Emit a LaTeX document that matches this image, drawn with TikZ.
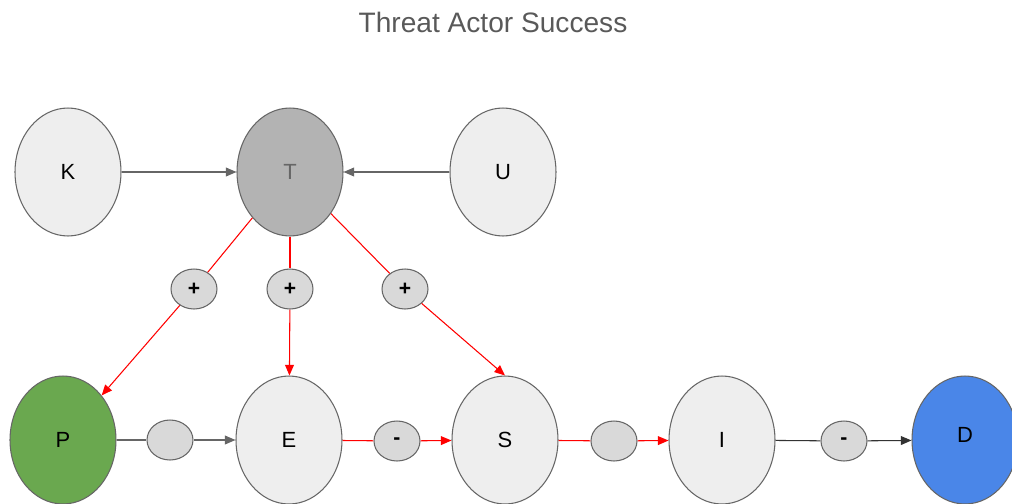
\documentclass[tikz,border=0pt]{standalone}
\usepackage{fontspec}
\setmainfont{Liberation Sans}
\usetikzlibrary{shapes.geometric,arrows.meta}
\definecolor{lgray}{HTML}{EEEEEE}
\definecolor{mgray}{HTML}{D9D9D9}
\definecolor{dgray}{HTML}{B3B3B3}
\definecolor{edge}{HTML}{666666}
\definecolor{pgreen}{HTML}{6AA84F}
\definecolor{dblue}{HTML}{4A86E8}
\definecolor{titlec}{HTML}{595959}
\begin{document}
\begin{tikzpicture}[x=0.02cm,y=-0.02cm,
  big/.style={ellipse,draw=edge,line width=0.6pt,fill=lgray,minimum width=2.12cm,minimum height=2.56cm,inner sep=0pt,font=\fontsize{12.5}{14}\selectfont},
  small/.style={ellipse,draw=edge,line width=0.6pt,fill=mgray,minimum width=0.92cm,minimum height=0.8cm,inner sep=0pt,font=\fontsize{12}{14}\selectfont\bfseries},
  gl/.style={draw=edge,line width=0.6pt},
  ga/.style={gl,-{Triangle[length=6pt,width=5pt]}},
  rl/.style={draw=red,line width=0.6pt},
  ra/.style={rl,-{Triangle[length=6pt,width=5pt]}},
  bl/.style={draw=black!80,line width=0.6pt},
  ba/.style={bl,-{Triangle[length=6pt,width=5pt]}}]
\useasboundingbox (0,0) rectangle (1012,504);
\node[text=titlec,font=\fontsize{16}{19}\selectfont] (title) at (493,22) {Threat Actor Success};
\node[big] (K) at (68,172) {K};
\node[big,fill=dgray,text=edge] (T) at (290,172) {T};
\node[big] (U) at (503,172) {U};
\node[small] (p1) at (194,289) {+};
\node[small] (p2) at (290,289) {+};
\node[small] (p3) at (405,289) {+};
\node[big,fill=pgreen] (P) at (63,440) {P};
\node[big] (E) at (289,440) {E};
\node[big] (S) at (505,440) {S};
\node[big] (I) at (722,440) {I};
\node[big,fill=dblue,draw=edge] (D) at (965,440) {\raisebox{6pt}{D}};
\node[small] (m1) at (170,440) {};
\node[small] (m2) at (397,441) {-};
\node[small] (m3) at (614,441) {};
\node[small] (m4) at (844,441) {-};
\draw[ga] (K) -- (T);
\draw[ga] (U) -- (T);
\draw[rl] (T) -- (p1);
\draw[rl] (T) -- (p2);
\draw[rl] (T) -- (p3);
\draw[ra] (p1) -- (P);
\draw[ra] (p2) -- (E);
\draw[ra] (p3) -- (S.north);
\draw[gl] (P) -- (m1);
\draw[ga] (m1) -- (E);
\draw[rl] (E) -- (m2);
\draw[ra] (m2) -- (S);
\draw[rl] (S) -- (m3);
\draw[ra] (m3) -- (I);
\draw[bl] (I) -- (m4);
\draw[ba] (m4) -- (D);
\end{tikzpicture}
\end{document}
